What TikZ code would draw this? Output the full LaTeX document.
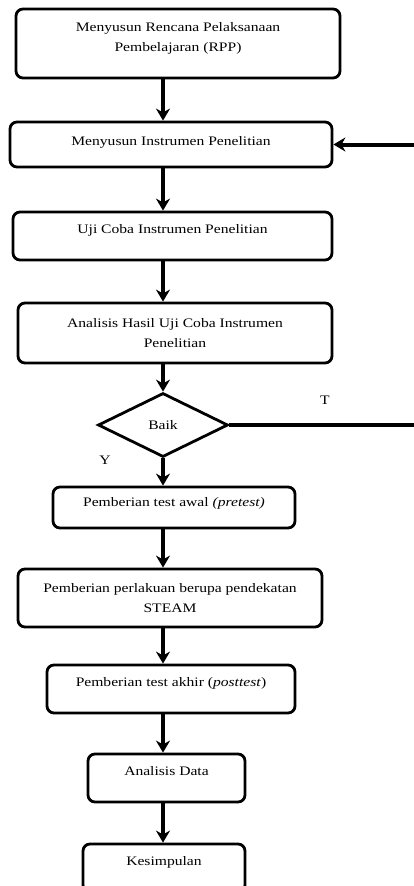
\documentclass[tikz,border=0pt]{standalone}
\usepackage{fontspec}
\setmainfont{Liberation Serif}[FakeStretch=1.2]
\usetikzlibrary{arrows.meta,shapes.geometric}

\begin{document}
\begin{tikzpicture}[x=1pt, y=-1pt, font=\fontsize{13}{20}\selectfont, >={Stealth[length=12pt,width=14pt]},
  box/.style={draw, line width=2.8pt, rounded corners=7pt, align=center, inner sep=2pt},
  lift/.style={text depth=#1},
  dec/.style={draw, diamond, line width=2.8pt, inner sep=0pt, minimum width=130pt, minimum height=64pt},
  flow/.style={->, line width=4pt}]
\useasboundingbox (0,0) rectangle (414,886);
\clip (0,0) rectangle (414,886);
\node[box, lift=14pt, minimum width=324pt, minimum height=69pt] (rpp)       at (178,43.5)  {Menyusun Rencana Pelaksanaan\\Pembelajaran (RPP)};
\node[box, lift=8pt,  minimum width=322pt, minimum height=45pt] (instrumen) at (171,144.5) {Menyusun Instrumen Penelitian};
\node[box, lift=15pt, minimum width=319pt, minimum height=48pt] (ujicoba)   at (172.5,236) {Uji Coba Instrumen Penelitian};
\node[box, minimum width=314pt, minimum height=60pt] (analisis)  at (175,333)   {Analisis Hasil Uji Coba Instrumen\\Penelitian};
\node[dec] (baik) at (163,425) {Baik};
\node[box, lift=12pt, minimum width=242pt, minimum height=41pt] (pretest)   at (174,507.5) {Pemberian test awal \textit{(pretest)}};
\node[box, minimum width=304pt, minimum height=58pt] (steam)     at (170,598)   {Pemberian perlakuan berupa pendekatan\\STEAM};
\node[box, lift=15pt, minimum width=248pt, minimum height=48pt] (posttest)  at (171,689)   {Pemberian test akhir (\textit{posttest})};
\node[box, lift=15pt, minimum width=157pt, minimum height=48pt] (data)      at (166.5,778) {Analisis Data};
\node[box, lift=15pt, minimum width=162pt, minimum height=48pt] (simpulan)  at (164,868)   {Kesimpulan};
\node (ya)    at (105,460) {Y};
\node (tidak) at (325,400) {T};
\coordinate (balik) at (420,144.5);
\draw[flow] (rpp.south -| baik) -- (instrumen.north -| baik);
\draw[flow] (instrumen.south -| baik) -- (ujicoba.north -| baik);
\draw[flow] (ujicoba.south -| baik) -- (analisis.north -| baik);
\draw[flow] (analisis.south -| baik) -- (baik.north);
\draw[flow] (baik.south) -- (pretest.north -| baik);
\draw[flow] (pretest.south -| baik) -- (steam.north -| baik);
\draw[flow] (steam.south -| baik) -- (posttest.north -| baik);
\draw[flow] (posttest.south -| baik) -- (data.north -| baik);
\draw[flow] (data.south -| baik) -- (simpulan.north -| baik);
\draw[flow] (baik.east) -| (balik) -- (instrumen.east);
\end{tikzpicture}
\end{document}
